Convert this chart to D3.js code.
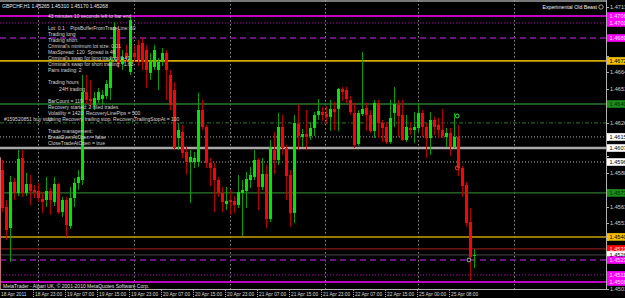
<!DOCTYPE html>
<html><head><meta charset="utf-8">
<script src="https://cdn.jsdelivr.net/npm/d3@7"></script>
<style>html,body{margin:0;padding:0;background:#000;overflow:hidden}</style>
</head><body>
<svg id="c" width="625" height="298"></svg>
<script>
// ---------- DATA ----------
const symbolTitle = "GBPCHF,H1 1.45265 1.45310 1.45170 1.45268";
const opens = [1.45905,1.45628,1.45470,1.45815,1.45733,1.45995,1.45733,1.45800,1.45755,1.45748,
1.45688,1.45680,1.45748,1.45665,1.45800,1.45590,1.45680,1.45485,1.45695,1.45808,
1.45830,1.46490,1.46438,1.46393,1.46430,1.46438,1.46460,1.46520,1.46745,1.46955,
1.46700,1.46783,1.46640,1.46783,1.46843,1.46858,1.46805,1.46633,1.46678,1.46655,
1.46715,1.46783,1.46618,1.46505,1.46145,1.46190,1.46040,1.45965,1.45965,1.45965,
1.46355,1.46228,1.45958,1.45920,1.45830,1.45733,1.45650,1.45680,1.45673,1.45643,
1.45733,1.45748,1.45830,1.45853,1.45980,1.45778,1.45875,1.45538,1.46055,1.45980,
1.46228,1.46070,1.45868,1.45583,1.46250,1.46153,1.46175,1.46160,1.46220,1.46318,
1.46340,1.46325,1.46303,1.46363,1.46363,1.46513,1.46505,1.46430,1.46333,1.46100,
1.46325,1.46370,1.46318,1.46198,1.46408,1.46258,1.46228,1.46115,1.46333,1.46393,
1.46318,1.46130,1.46220,1.46205,1.46220,1.46333,1.46228,1.46145,1.46280,1.46243,
1.46205,1.46153,1.46183,1.46078,1.46153,1.45920,1.45793,1.45515,1.45265];
const highs = [1.45980,1.45680,1.45860,1.45845,1.46055,1.46055,1.45883,1.45868,1.45793,1.45808,
1.45740,1.45853,1.45770,1.45853,1.45808,1.45703,1.45703,1.45778,1.45845,1.45905,
1.46618,1.46618,1.46580,1.46490,1.46520,1.46505,1.46580,1.46745,1.47015,1.46985,
1.46805,1.46843,1.47053,1.46843,1.46880,1.46895,1.46843,1.46783,1.46843,1.46745,
1.46820,1.46805,1.46655,1.46565,1.46258,1.46243,1.46078,1.46055,1.46040,1.46483,
1.46430,1.46243,1.45995,1.45958,1.45853,1.45778,1.45778,1.45755,1.45710,1.45868,
1.45830,1.45890,1.45928,1.46055,1.45995,1.45995,1.45943,1.46130,1.46190,1.46333,
1.46318,1.46093,1.45905,1.46318,1.46400,1.46213,1.46355,1.46265,1.46340,1.46438,
1.46378,1.46385,1.46430,1.46415,1.46520,1.46528,1.46528,1.46460,1.46408,1.46355,
1.46790,1.46408,1.46355,1.46430,1.46430,1.46280,1.46265,1.46430,1.46528,1.46430,
1.46430,1.46318,1.46265,1.46340,1.46408,1.46355,1.46258,1.46340,1.46303,1.46295,
1.46363,1.46220,1.46220,1.46333,1.46243,1.45935,1.45815,1.45620,1.45310];
const lows = [1.45590,1.45380,1.45215,1.45680,1.45710,1.45703,1.45710,1.45643,1.45695,1.45665,
1.45583,1.45628,1.45568,1.45635,1.45575,1.45553,1.45403,1.45463,1.45628,1.45755,
1.45793,1.46400,1.46370,1.46355,1.46408,1.46400,1.46438,1.46430,1.46715,1.46670,
1.46655,1.46715,1.46618,1.46715,1.46685,1.46655,1.46520,1.46580,1.46655,1.46505,
1.46685,1.46430,1.46355,1.46055,1.46055,1.45995,1.45868,1.45658,1.45920,1.45928,
1.46205,1.45920,1.45785,1.45590,1.45703,1.45590,1.45605,1.45568,1.45583,1.45620,
1.45410,1.45620,1.45770,1.45830,1.45605,1.45755,1.45470,1.45515,1.45875,1.45943,
1.46018,1.45680,1.45478,1.45508,1.46055,1.46078,1.46055,1.46130,1.46160,1.46280,
1.46273,1.46250,1.46198,1.46205,1.46198,1.46423,1.46408,1.46318,1.46070,1.46085,
1.46310,1.46198,1.46183,1.46145,1.46145,1.46115,1.46100,1.46100,1.46228,1.46153,
1.46123,1.46115,1.46168,1.46108,1.46183,1.46153,1.45995,1.46018,1.46168,1.46145,
1.46145,1.46078,1.46010,1.46070,1.45860,1.45703,1.45478,1.45080,1.45170];
const closes = [1.45620,1.45455,1.45815,1.45733,1.45988,1.45733,1.45800,1.45748,1.45740,1.45695,
1.45665,1.45748,1.45680,1.45800,1.45590,1.45680,1.45493,1.45695,1.45808,1.45853,
1.46490,1.46430,1.46423,1.46445,1.46490,1.46468,1.46550,1.46715,1.46978,1.46700,
1.46753,1.46745,1.47030,1.46753,1.46730,1.46715,1.46655,1.46730,1.46805,1.46715,
1.46783,1.46655,1.46393,1.46070,1.46205,1.46033,1.45965,1.46003,1.45995,1.46355,
1.46228,1.45958,1.45920,1.45830,1.45733,1.45665,1.45673,1.45665,1.45643,1.45740,
1.45755,1.45838,1.45868,1.45980,1.45778,1.45875,1.45538,1.46078,1.45980,1.46228,
1.46070,1.45860,1.45583,1.46258,1.46160,1.46175,1.46153,1.46220,1.46318,1.46348,
1.46318,1.46303,1.46363,1.46340,1.46513,1.46490,1.46438,1.46340,1.46093,1.46333,
1.46363,1.46318,1.46198,1.46408,1.46258,1.46220,1.46115,1.46295,1.46400,1.46310,
1.46130,1.46228,1.46205,1.46228,1.46333,1.46228,1.46145,1.46280,1.46228,1.46205,
1.46160,1.46183,1.46078,1.46153,1.45920,1.45785,1.45508,1.45253,1.45268];

const dateLabels = ["18 Apr 2011","18 Apr 23:00","19 Apr 07:00","19 Apr 15:00","19 Apr 23:00",
"20 Apr 07:00","20 Apr 15:00","20 Apr 23:00","21 Apr 07:00","21 Apr 15:00","21 Apr 23:00",
"22 Apr 07:00","22 Apr 15:00","25 Apr 00:00","25 Apr 08:00"];
const dateLabelBars = [0,8,16,24,32,40,48,56,64,72,80,88,96,104,112];
const gridBars = [9,33,57,81,104,128];   // midnight bars

const priceTicks = [1.47130,1.46890,1.46760,1.46640,1.46510,1.46390,1.46260,1.46130,1.46010,
1.45880,1.45760,1.45630,1.45510,1.45380,1.45260,1.45130,1.45010];

const levelPrices = [1.47060,1.47008,1.46895,1.46723,1.46400,1.46258,1.46153,1.46070,1.45965,
1.45733,1.45403,1.45313,1.45268,1.45230,1.45118,1.45065];
const levelStyles = [
 {c:"#ff00ff",w:1.4,d:null, box:"#ff00ff",fg:"#ffe0ff"},
 {c:"#c000c0",w:1,d:"1,2", box:"#ff00ff",fg:"#ffe0ff"},
 {c:"#8a1aa8",w:1.5,d:"6,4", box:"#ff00ff",fg:"#ffe0ff"},
 {c:"#d8a800",w:1.8,d:null, box:"#f0c000",fg:"#000"},
 {c:"#2a7a2a",w:1.5,d:null, box:"#1c8c1c",fg:"#002800"},
 {c:"#256025",w:1.2,d:"4,2,1,2", box:null},
 {c:"#b0b0b0",w:1,d:"1,2", box:"#ffffff",fg:"#000"},
 {c:"#a8a8a8",w:2.4,d:null, box:"#ffffff",fg:"#000"},
 {c:"#b0b0b0",w:1,d:"1,2", box:"#ffffff",fg:"#000"},
 {c:"#2a7a2a",w:1.3,d:null, box:"#1c8c1c",fg:"#002800"},
 {c:"#c8a000",w:1.5,d:null, box:"#f0c000",fg:"#000"},
 {c:"#8b1a1a",w:1.3,d:null, box:"#ff0000",fg:"#ffe0e0"},
 {c:"#4a4a4a",w:1,d:null, box:"#ffffff",fg:"#000"},
 {c:"#8a1aa8",w:1.5,d:"6,4", box:"#ff00ff",fg:"#ffe0ff"},
 {c:"#c000c0",w:1,d:"1,2", box:"#ff00ff",fg:"#ffe0ff"},
 {c:"#ff00ff",w:1.3,d:null, box:"#ff00ff",fg:"#ffe0ff"}
];

const timerText = "43 minutes 10 seconds left to bar end";
const infoLines = ["Lot: 0.1    PipsBufferFromTradeLine: 60","Trading long","Trading short",
"Criminal's minimum lot size: 0.01","MaxSpread: 120  Spread is 46",
"Criminal's swap for long trading: 0.41","Criminal's swap for short trading: -1.63",
"Pairs trading: 2","","Trading hours","        24H trading","",
"BarCount = 119","Recovery started: 2 filled trades","Volatility = 1420  RecoveryLinePips = 500",
"Using Recovery trailing stop. RecoveryTrailingStopAt = 100","","Trade management:",
"BreakEvenAtOpen = false","CloseTradeAtOpen = true"];
const orderLabel = "#159520851 buy stop";
const eaName = "Experimental Old Beast";
const copyright = "MetaTrader - Alpari UK, \u00a9 2001-2010 MetaQuotes Software Corp.";
const markerBars = [113.7,113.7,116.6];
const markerPrices = [1.46310,1.45920,1.45230];
const markerColors = ["#30c030","#e03030","#909090"];

// ---------- DRAW ----------
const svg = d3.select("#c");
const W = 625, H = 298, axisX = 606, plotBottom = 289;
const FONT = "Liberation Sans, Arial, sans-serif";
svg.append("rect").attr("width",W).attr("height",H).attr("fill","#000");

const y = d3.scaleLinear().domain([1.4500,1.4718]).range([290.67,0]);
const x = d3.scaleLinear().domain([0,118]).range([2.5,474.5]);

svg.append("defs").append("clipPath").attr("id","pc")
  .append("rect").attr("x",0).attr("y",0).attr("width",axisX).attr("height",plotBottom);
const plot = svg.append("g").attr("clip-path","url(#pc)");

// grid verticals
plot.selectAll("line.grid").data(gridBars).join("line")
  .attr("x1",d=>Math.round(x(d))-0.5).attr("x2",d=>Math.round(x(d))-0.5)
  .attr("y1",0).attr("y2",plotBottom)
  .attr("stroke","#8c8c8c").attr("stroke-width",1).attr("stroke-dasharray","1.5,2.5");

// level lines
plot.selectAll("line.lvl").data(levelPrices).join("line")
  .attr("x1",0).attr("x2",axisX)
  .attr("y1",d=>y(d)).attr("y2",d=>y(d))
  .attr("stroke",(d,i)=>levelStyles[i].c).attr("stroke-width",(d,i)=>levelStyles[i].w)
  .attr("stroke-dasharray",(d,i)=>levelStyles[i].d);

// left edge line
plot.append("line").attr("x1",0.5).attr("x2",0.5).attr("y1",y(1.46000)).attr("y2",plotBottom)
  .attr("stroke","#c07070").attr("stroke-width",1);

// candles
const idx = d3.range(opens.length);
const up = i => closes[i] >= opens[i];
plot.selectAll("line.wick").data(idx).join("line")
  .attr("x1",i=>x(i)).attr("x2",i=>x(i))
  .attr("y1",i=>y(highs[i])).attr("y2",i=>y(lows[i]))
  .attr("stroke",i=>up(i)?"#0a9a0a":"#b00000").attr("stroke-width",1);
plot.selectAll("rect.body").data(idx).join("rect")
  .attr("x",i=>x(i)-1.5).attr("width",3)
  .attr("y",i=>Math.min(y(opens[i]),y(closes[i])))
  .attr("height",i=>Math.max(1,Math.abs(y(opens[i])-y(closes[i]))))
  .attr("fill",i=>up(i)?"#00e400":"#ff0000");

// trade markers
plot.selectAll("circle.mk").data(markerBars).join("circle")
  .attr("cx",d=>x(d)).attr("cy",(d,i)=>y(markerPrices[i])).attr("r",1.8)
  .attr("fill","none").attr("stroke",(d,i)=>markerColors[i]).attr("stroke-width",1.2);

// borders
svg.append("line").attr("x1",0).attr("x2",axisX).attr("y1",1).attr("y2",1).attr("stroke","#a0a0a0").attr("stroke-width",1.5);
svg.append("line").attr("x1",axisX+0.5).attr("x2",axisX+0.5).attr("y1",0).attr("y2",plotBottom+1).attr("stroke","#b0b0b0");
svg.append("line").attr("x1",0).attr("x2",axisX).attr("y1",plotBottom+0.5).attr("y2",plotBottom+0.5).attr("stroke","#b0b0b0");

// price axis ticks (labels hidden where a level box covers them)
const boxes = levelPrices.map((p,i)=>({p,s:levelStyles[i]})).filter(d=>d.s.box);
const visibleTicks = priceTicks.filter(t => !boxes.some(b => Math.abs(y(b.p)-y(t)) < 7));
const ax = svg.append("g");
ax.selectAll("line.pt").data(priceTicks).join("line")
  .attr("x1",axisX).attr("x2",axisX+3).attr("y1",d=>Math.round(y(d))+0.5).attr("y2",d=>Math.round(y(d))+0.5)
  .attr("stroke","#b0b0b0");
ax.selectAll("text.pt").data(visibleTicks).join("text")
  .attr("x",axisX+4).attr("y",d=>y(d)+2)
  .attr("font-family",FONT).attr("font-size",5.6).attr("fill","#d0d0d0")
  .text(d=>d.toFixed(5));

// level boxes
ax.selectAll("rect.lb").data(boxes).join("rect")
  .attr("x",axisX+1).attr("y",d=>y(d.p)-3.8).attr("width",W-axisX).attr("height",7.6)
  .attr("fill",d=>d.s.box);
ax.selectAll("text.lb").data(boxes).join("text")
  .attr("x",axisX+3.5).attr("y",d=>y(d.p)+2)
  .attr("font-family",FONT).attr("font-size",5.6).attr("fill",d=>d.s.fg)
  .text(d=>d.p.toFixed(5));

// date axis
const dg = svg.append("g");
dg.selectAll("line.dt").data(dateLabelBars.slice(1)).join("line")
  .attr("x1",d=>Math.round(x(d))-1.5).attr("x2",d=>Math.round(x(d))-1.5)
  .attr("y1",plotBottom+1).attr("y2",H-1)
  .attr("stroke","#a0a0a0").attr("stroke-dasharray","1,1");
dg.selectAll("text.dt").data(dateLabels).join("text")
  .attr("x",(d,i)=> i===0 ? 1 : Math.round(x(dateLabelBars[i])) )
  .attr("y",296)
  .attr("font-family",FONT).attr("font-size",4.8).attr("fill","#d8d8d8")
  .text(d=>d);

// texts
const tc = "#d4d4d4";
svg.append("text").attr("x",2).attr("y",7.5).attr("font-family",FONT).attr("font-size",5).attr("fill","#e8e8e8").text(symbolTitle);
svg.append("text").attr("x",48).attr("y",17.5).attr("font-family",FONT).attr("font-size",5).attr("fill",tc).text(timerText);
svg.selectAll("text.info").data(infoLines).join("text")
  .attr("x",48).attr("y",(d,i)=>30 + i*6.05)
  .attr("font-family",FONT).attr("font-size",5).attr("fill",tc)
  .attr("xml:space","preserve").style("white-space","pre")
  .text(d=>d);
svg.append("text").attr("x",4).attr("y",30+15*6.05).attr("font-family",FONT).attr("font-size",5).attr("fill",tc).text(orderLabel);
svg.append("text").attr("x",597).attr("y",9).attr("text-anchor","end").attr("font-family",FONT).attr("font-size",5.2).attr("fill","#f0f0f0").text(eaName);
svg.append("circle").attr("cx",601).attr("cy",7).attr("r",2.2).attr("fill","none").attr("stroke","#c0c0c0").attr("stroke-width",0.8);
svg.append("text").attr("x",3).attr("y",288).attr("font-family",FONT).attr("font-size",5).attr("fill","#e0e0e0").text(copyright);
</script>
</body></html>
